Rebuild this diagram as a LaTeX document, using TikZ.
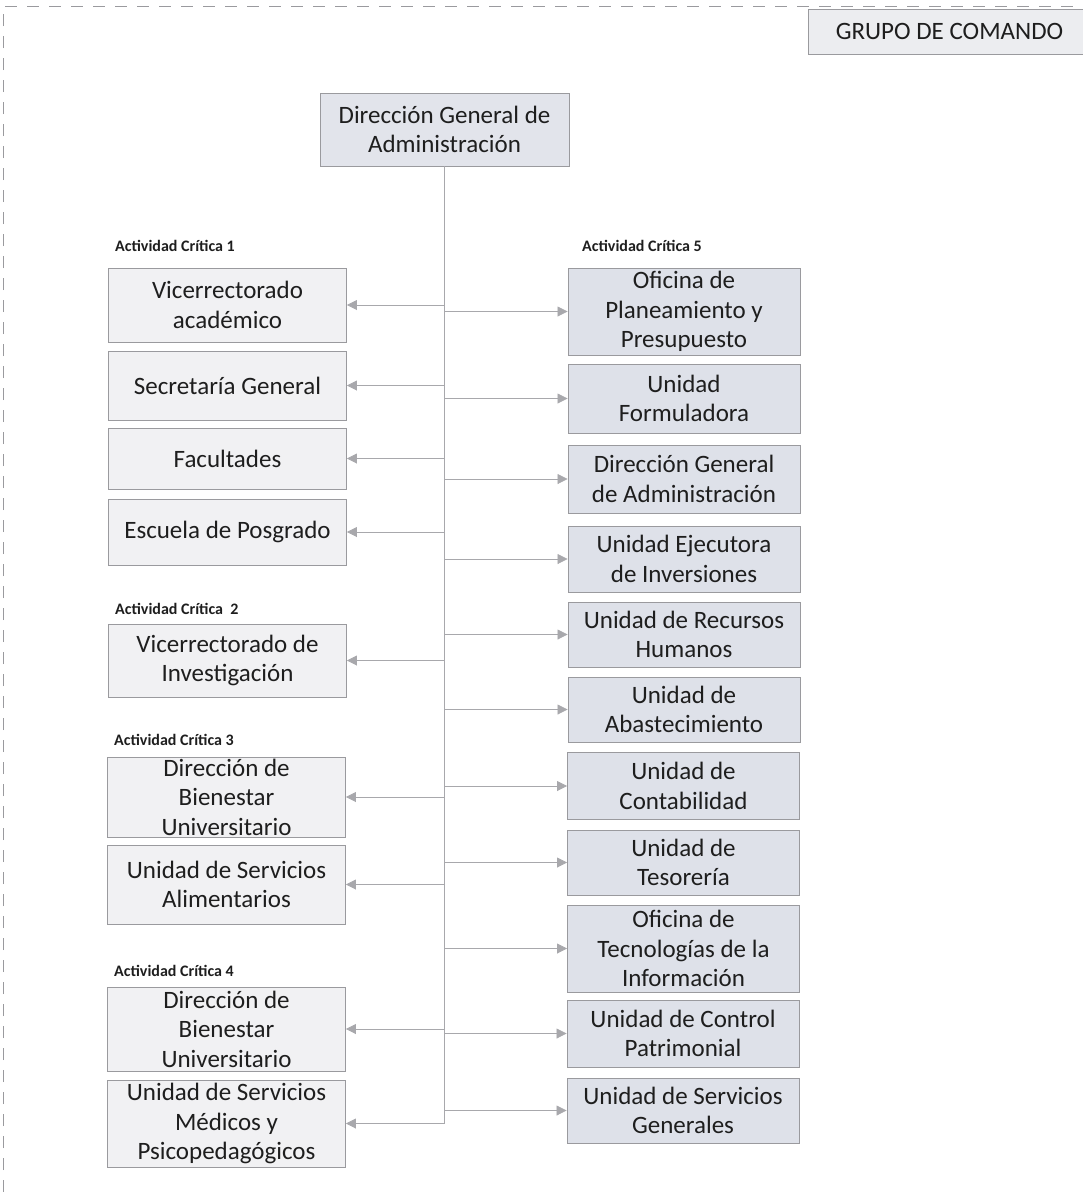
\documentclass[tikz,border=0pt]{standalone}
\usepackage{fontspec}
\setmainfont{Carlito}
\usetikzlibrary{arrows.meta}
\definecolor{lfill}{HTML}{F1F1F3}
\definecolor{rfill}{HTML}{DEE1E9}
\definecolor{tfill}{HTML}{E2E4EB}
\definecolor{gfill}{HTML}{ECEDF0}
\definecolor{bline}{HTML}{9A9A9E}
\definecolor{cline}{HTML}{A8A8AC}
\definecolor{ink}{HTML}{1E1E1E}
\begin{document}
\begin{tikzpicture}[x=1pt,y=-1pt,
 box/.style={draw=bline, line width=0.9pt, inner sep=0pt, align=center, text=ink, font=\fontsize{25}{29.5}\selectfont},
 lbox/.style={box, fill=lfill, minimum width=238pt},
 rbox/.style={box, fill=rfill, minimum width=232pt},
 acttitle/.style={anchor=west, inner sep=0pt, text=ink, font=\fontsize{16}{18}\selectfont\bfseries},
 conn/.style={draw=cline, line width=0.8pt, -{Triangle[length=10pt,width=10pt]}},
 trunkline/.style={draw=cline, line width=0.8pt},
 frameline/.style={draw=bline, line width=0.8pt, dash pattern=on 12pt off 10pt},
]
\useasboundingbox (0,0) rectangle (1083,1192);

% frame
\draw[frameline] (3,1192) -- (3,6) -- (1083,6);

% command group
\node[box, fill=gfill, minimum width=283pt, minimum height=45pt] (grupo) at (949.5,31.5) {GRUPO DE COMANDO};

% top box
\node[box, fill=tfill, minimum width=249pt, minimum height=73pt] (top) at (444.5,129.5) {Dirección General de\\Administración};

% labels
\node[acttitle] (ac1) at (115,246) {Actividad Crítica 1};
\node[acttitle] (ac5) at (582,246) {Actividad Crítica 5};
\node[acttitle] (ac2) at (115,609) {Actividad Crítica \ 2};
\node[acttitle] (ac3) at (114,740) {Actividad Crítica 3};
\node[acttitle] (ac4) at (114,971) {Actividad Crítica 4};

% left boxes
\node[lbox, minimum height=74pt] (vica) at (227.5,305) {Vicerrectorado\\académico};
\node[lbox, minimum height=69pt] (secg) at (227.5,385.5) {Secretaría General};
\node[lbox, minimum height=61pt] (facu) at (227.5,458.5) {Facultades};
\node[lbox, minimum height=66pt] (escu) at (227.5,532) {Escuela de Posgrado};
\node[lbox, minimum height=73pt] (vinv) at (227.5,660.5) {Vicerrectorado de\\Investigación};
\node[lbox, minimum height=80pt] (dbua) at (226.5,797) {Dirección de\\Bienestar\\Universitario};
\node[lbox, minimum height=79pt] (usal) at (226.5,884.5) {Unidad de Servicios\\Alimentarios};
\node[lbox, minimum height=84pt] (dbub) at (226.5,1029) {Dirección de\\Bienestar\\Universitario};
\node[lbox, minimum height=87pt] (usme) at (226.5,1123.5) {Unidad de Servicios\\Médicos y\\Psicopedagógicos};

% right boxes
\node[rbox, minimum height=87pt] (opp) at (684,311.5) {Oficina de\\Planeamiento y\\Presupuesto};
\node[rbox, minimum height=69pt] (ufor) at (684,398.5) {Unidad\\Formuladora};
\node[rbox, minimum height=68pt] (dga) at (684,479) {Dirección General\\de Administración};
\node[rbox, minimum height=66pt] (uei) at (684,559) {Unidad Ejecutora\\de Inversiones};
\node[rbox, minimum height=65pt] (urh) at (684,634.5) {Unidad de Recursos\\Humanos};
\node[rbox, minimum height=65pt] (uab) at (684,709.5) {Unidad de\\Abastecimiento};
\node[rbox, minimum height=67pt] (uco) at (683.5,786) {Unidad de\\Contabilidad};
\node[rbox, minimum height=65pt] (ute) at (683.5,862.5) {Unidad de\\Tesorería};
\node[rbox, minimum height=87pt] (oti) at (683.5,948.5) {Oficina de\\Tecnologías de la\\Información};
\node[rbox, minimum height=67pt] (ucp) at (683,1033.5) {Unidad de Control\\Patrimonial};
\node[rbox, minimum height=65pt] (usg) at (683,1110.5) {Unidad de Servicios\\Generales};

% trunk
\draw[trunkline] (top.south) -- (top.south |- usme.east);

% left connectors
\foreach \n in {vica,secg,facu,escu,vinv,dbua,usal,dbub,usme}
  \draw[conn] (top.south |- \n.east) -- (\n.east);

% right connectors
\foreach \n in {opp,ufor,dga,uei,urh,uab,uco,ute,oti,ucp,usg}
  \draw[conn] (top.south |- \n.west) -- (\n.west);
\end{tikzpicture}
\end{document}
